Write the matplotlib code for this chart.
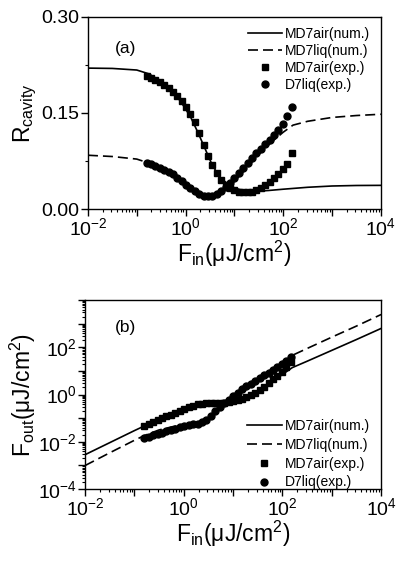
import numpy as np
import matplotlib
matplotlib.use("Agg")
import matplotlib.pyplot as plt
from matplotlib.ticker import LogLocator, FuncFormatter, FixedLocator, NullFormatter

plt.rcParams['font.family'] = ['Liberation Sans', 'DejaVu Sans']
plt.rcParams['mathtext.fontset'] = 'custom'
plt.rcParams['mathtext.rm'] = 'Liberation Sans'
plt.rcParams['mathtext.it'] = 'Liberation Sans:italic'
plt.rcParams['mathtext.bf'] = 'Liberation Sans:bold'

# ---------------- data (log10 of fluence) ----------------
# numerical curves, panel (a)
a_air_num_logx = [-2.0, -1.5, -1.0, -0.75, -0.5, -0.3, -0.1, 0.1, 0.25, 0.4, 0.55, 0.7, 0.85,
                  1.0, 1.2, 1.4, 1.7, 2.0, 2.5, 3.0, 3.5, 4.0]
a_air_num_R = [0.220, 0.2195, 0.217, 0.211, 0.199, 0.186, 0.168, 0.144, 0.120, 0.094, 0.068,
               0.050, 0.040, 0.033, 0.0285, 0.0275, 0.029, 0.031, 0.034, 0.036, 0.0368, 0.037]

a_liq_num_logx = [-2.0, -1.5, -1.0, -0.8, -0.5, -0.2, 0.0, 0.2, 0.4, 0.6, 0.8, 1.0, 1.2, 1.4,
                  1.6, 1.8, 2.0, 2.2, 2.5, 3.0, 3.5, 4.0]
a_liq_num_R = [0.084, 0.082, 0.078, 0.073, 0.063, 0.051, 0.039, 0.028, 0.022, 0.022, 0.030,
               0.043, 0.060, 0.077, 0.093, 0.107, 0.120, 0.131, 0.137, 0.143, 0.146, 0.148]

# experimental fluences (shared)
exp_logx = [-0.80, -0.71, -0.62, -0.53, -0.44, -0.35, -0.26, -0.17, -0.08, 0.01, 0.10, 0.19,
            0.28, 0.37, 0.46, 0.55, 0.64, 0.73, 0.82, 0.91, 1.00, 1.09, 1.18, 1.27, 1.36, 1.45,
            1.54, 1.63, 1.72, 1.81, 1.90, 1.99, 2.08, 2.17]
a_air_exp_R = [0.208, 0.205, 0.202, 0.198, 0.194, 0.189, 0.183, 0.177, 0.169, 0.160, 0.149,
               0.136, 0.118, 0.100, 0.083, 0.068, 0.056, 0.046, 0.038, 0.033, 0.029, 0.027,
               0.026, 0.026, 0.027, 0.029, 0.033, 0.037, 0.042, 0.048, 0.055, 0.062, 0.071, 0.087]
a_liq_exp_R = [0.072, 0.070, 0.067, 0.064, 0.061, 0.058, 0.054, 0.049, 0.044, 0.038, 0.033,
               0.028, 0.024, 0.021, 0.020, 0.021, 0.024, 0.028, 0.034, 0.041, 0.048, 0.056,
               0.064, 0.072, 0.080, 0.087, 0.094, 0.101, 0.108, 0.115, 0.123, 0.132, 0.145, 0.160]

# panel (b): log10(Fout)
b_air_num_logx = [-2.0, -1.0, -0.5, -0.2, 0.0, 0.2, 0.4, 0.6, 0.8, 1.0, 1.2, 1.4, 1.6, 1.8,
                  2.0, 2.2, 2.5, 3.0, 3.5, 4.0]
b_air_num_logy = [-2.55, -1.53, -1.04, -0.77, -0.62, -0.50, -0.42, -0.38, -0.35, -0.30, -0.22,
                  -0.03, 0.25, 0.55, 0.85, 1.14, 1.41, 1.87, 2.33, 2.80]
b_liq_num_logx = [-2.0, -1.5, -1.0, -0.8, -0.5, -0.2, 0.1, 0.3, 0.45, 0.6, 0.75, 0.9, 1.1, 1.3,
                  1.5, 1.7, 1.9, 2.2, 2.5, 3.0, 3.5, 4.0]
b_liq_num_logy = [-3.01, -2.47, -1.94, -1.74, -1.50, -1.35, -1.25, -1.18, -1.05, -0.80, -0.50,
                  -0.25, 0.07, 0.35, 0.62, 0.90, 1.17, 1.66, 1.95, 2.43, 2.90, 3.39]
b_air_exp_logy = [-1.35, -1.26, -1.18, -1.09, -1.01, -0.93, -0.85, -0.77, -0.69, -0.61, -0.53,
                  -0.47, -0.42, -0.39, -0.37, -0.36, -0.35, -0.35, -0.34, -0.32, -0.29, -0.25,
                  -0.19, -0.12, -0.04, 0.06, 0.19, 0.33, 0.48, 0.64, 0.80, 0.97, 1.15, 1.36]
b_liq_exp_logy = [-1.85, -1.78, -1.72, -1.66, -1.61, -1.55, -1.50, -1.44, -1.39, -1.34, -1.30,
                  -1.26, -1.23, -1.18, -1.08, -0.92, -0.70, -0.52, -0.38, -0.24, -0.08, 0.08,
                  0.22, 0.34, 0.46, 0.58, 0.69, 0.81, 0.92, 1.04, 1.17, 1.30, 1.44, 1.60]

labels = ['MD7air(num.)', 'MD7liq(num.)', 'MD7air(exp.)', 'D7liq(exp.)']
xlabel = 'F$_{\\mathregular{in}}$(μJ/cm$^{\\mathregular{2}}$)'

p = lambda v: 10.0 ** np.asarray(v)

fig = plt.figure(figsize=(3.98, 5.62), dpi=100)
axA = fig.add_axes([0.221, 0.628, 0.736, 0.342])
axB = fig.add_axes([0.2136, 0.130, 0.744, 0.336])

lw = 1.2
dash = (6, 3)

def style_xlog(ax):
    ax.set_xscale('log')
    ax.set_xlim(1e-2, 1e4)
    ax.xaxis.set_major_locator(LogLocator(base=10, subs=(1.0,), numticks=20))
    ax.xaxis.set_major_formatter(FuncFormatter(
        lambda v, pos: ('$\\mathregular{10^{%d}}$' % round(np.log10(v))) if round(np.log10(v)) % 2 == 0 else ''))
    ax.xaxis.set_minor_locator(LogLocator(base=10, subs=np.arange(2, 10), numticks=20))
    ax.xaxis.set_minor_formatter(NullFormatter())
    ax.tick_params(axis='both', which='major', direction='out', length=5, width=1, labelsize=14, pad=1)
    ax.tick_params(axis='both', which='minor', direction='out', length=2.5, width=0.8)
    ax.tick_params(top=False, right=False, which='both')
    for s in ax.spines.values():
        s.set_linewidth(1.0)
    ax.set_xlabel(xlabel, fontsize=16.5, labelpad=0)

# ---------- panel (a) ----------
axA.plot(p(a_air_num_logx), a_air_num_R, '-', color='black', lw=lw, label=labels[0])
axA.plot(p(a_liq_num_logx), a_liq_num_R, '--', color='black', lw=lw, dashes=dash, label=labels[1])
axA.plot(p(exp_logx), a_air_exp_R, 's', color='black', ms=4, ls='none', label=labels[2])
axA.plot(p(exp_logx), a_liq_exp_R, 'o', color='black', ms=5, ls='none', label=labels[3])
style_xlog(axA)
axA.set_ylim(0, 0.30)
axA.yaxis.set_major_locator(FixedLocator([0.0, 0.15, 0.30]))
axA.yaxis.set_minor_locator(FixedLocator([0.075, 0.225]))
axA.yaxis.set_major_formatter(FuncFormatter(lambda v, pos: '%.2f' % v))
axA.set_ylabel('R$_{\\mathregular{cavity}}$', fontsize=16.5, labelpad=2)
axA.text(0.092, 0.833, '(a)', transform=axA.transAxes, fontsize=12.5, ha='left', va='center')
axA.legend(loc='upper right', bbox_to_anchor=(0.98, 0.974), frameon=False, fontsize=10,
           handlelength=2.5, handletextpad=0.2, labelspacing=0.22, borderaxespad=0.15,
           borderpad=0.2)

# ---------- panel (b) ----------
axB.plot(p(b_air_num_logx), p(b_air_num_logy), '-', color='black', lw=lw, label=labels[0])
axB.plot(p(b_liq_num_logx), p(b_liq_num_logy), '--', color='black', lw=lw, dashes=dash, label=labels[1])
axB.plot(p(exp_logx), p(b_air_exp_logy), 's', color='black', ms=4, ls='none', label=labels[2])
axB.plot(p(exp_logx), p(b_liq_exp_logy), 'o', color='black', ms=5, ls='none', label=labels[3])
style_xlog(axB)
axB.set_yscale('log')
axB.set_ylim(1e-4, 1e4)
axB.yaxis.set_major_locator(LogLocator(base=10, subs=(1.0,), numticks=20))
axB.yaxis.set_major_formatter(FuncFormatter(
    lambda v, pos: ('$\\mathregular{10^{%d}}$' % round(np.log10(v)))
    if (round(np.log10(v)) % 2 == 0 and round(np.log10(v)) < 4) else ''))
axB.yaxis.set_minor_locator(LogLocator(base=10, subs=np.arange(2, 10), numticks=20))
axB.yaxis.set_minor_formatter(NullFormatter())
axB.tick_params(axis='y', which='minor', length=2.5)
axB.set_ylabel('F$_{\\mathregular{out}}$(μJ/cm$^{\\mathregular{2}}$)', fontsize=16.5, labelpad=0)
axB.text(0.10, 0.857, '(b)', transform=axB.transAxes, fontsize=12.5, ha='left', va='center')
axB.legend(loc='lower right', bbox_to_anchor=(0.98, -0.032), frameon=False, fontsize=10,
           handlelength=2.5, handletextpad=0.2, labelspacing=0.35, borderaxespad=0.2,
           borderpad=0.2)

fig.savefig('out.png', dpi=100)
